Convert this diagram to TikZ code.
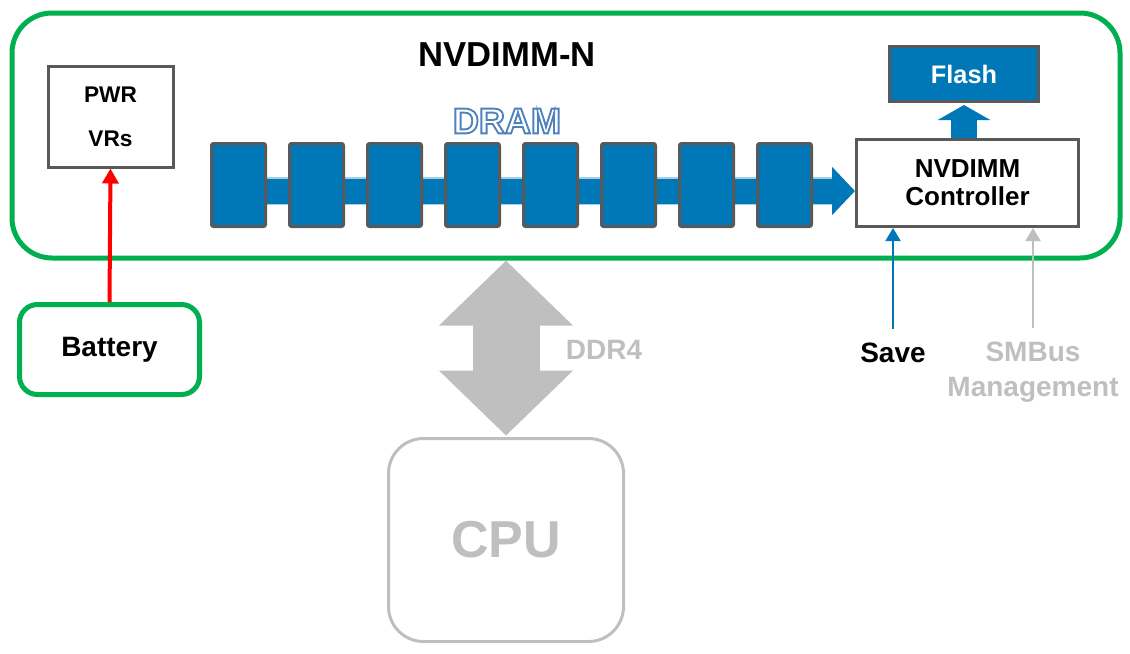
\documentclass[tikz,border=0pt]{standalone}
\usepackage{fontspec}
\setmainfont{Liberation Sans}
\usetikzlibrary{arrows.meta,positioning}

\definecolor{nvgreen}{RGB}{0,176,80}
\definecolor{chipblue}{RGB}{0,119,182}
\definecolor{edgegray}{RGB}{89,89,89}
\definecolor{paleline}{RGB}{191,191,191}
\definecolor{dramblue}{RGB}{79,129,189}

% outlined text: white fill, blue stroke
\newcommand{\outlined}[1]{{\color{white}%
    \special{pdf:literal direct 2 Tr 1.4 w 0.31 0.506 0.741 RG}#1%
    \special{pdf:literal direct 0 Tr}}}

\tikzset{
    lbl/.style={font=\fontsize{21pt}{25pt}\selectfont\bfseries, inner sep=0pt},
    greenbox/.style={draw=nvgreen, line width=3.75pt, fill=white, inner sep=0pt},
    graybox/.style={draw=edgegray, line width=2.25pt, inner sep=0pt},
    chip/.style={graybox, fill=chipblue, rounded corners=1.5pt,
        minimum width=40.5pt, minimum height=62.25pt},
    bus/.style={chipblue, line width=18.75pt,
        -{Triangle[length=17.25pt, width=35.25pt]}},
    upbus/.style={chipblue, line width=19.5pt,
        -{Triangle[length=11.25pt, width=39pt]}},
    ddr/.style={paleline, line width=50.25pt,
        {Triangle[length=48.75pt, width=97.5pt]}-{Triangle[length=48.75pt, width=97.5pt]}},
    thinarrow/.style={line width=1.5pt, -{Triangle[length=9.75pt, width=11.25pt]}},
}

\begin{document}
\begin{tikzpicture}[x=0.75pt, y=-0.75pt]
    \useasboundingbox (0,0) rectangle (1130,653);

    % -------------------------------------------------------
    % 1. The module and the battery
    % -------------------------------------------------------
    \node[greenbox, rounded corners=30pt, minimum width=831pt, minimum height=183.75pt]
        (nvdimm) at (566,135.5) {};
    \node[lbl, font=\fontsize{26pt}{30pt}\selectfont\bfseries] (title) at (507,55) {NVDIMM-N};

    \node[greenbox, rounded corners=13.5pt, minimum width=135pt, minimum height=67.5pt,
        lbl] (battery) at (109.5,349.5) {Battery};

    % Power regulators
    \node[graybox, minimum width=93.75pt, minimum height=75.75pt, align=center,
        font=\fontsize{17pt}{33pt}\selectfont\bfseries] (pwr) at (110.5,116.5) {PWR\\VRs};
    \draw[red, line width=3pt, -{Triangle[length=11.25pt, width=12pt]}]
        (battery.north) -- (pwr.south);

    % -------------------------------------------------------
    % 2. Controller, flash and the DRAM chips
    % -------------------------------------------------------
    \node[graybox, fill=white, minimum width=166.5pt, minimum height=65.25pt, align=center,
        font=\fontsize{19.5pt}{21pt}\selectfont\bfseries] (ctrl) at (967.5,183) {NVDIMM\\Controller};
    \node[graybox, fill=chipblue, text=white, minimum width=111.75pt, minimum height=41.25pt,
        font=\fontsize{19pt}{22pt}\selectfont\bfseries] (flash) at (964,74) {Flash};
    \draw[upbus] (flash.south |- ctrl.north) -- ([yshift=-1.5pt]flash.south);

    % Data path runs behind the chips
    \coordinate (busstart) at (238.5,191);
    \draw[chipblue!35, line width=21pt] (busstart) -- ([xshift=-17pt]busstart -| ctrl.west);
    \draw[bus] (busstart) -- (busstart -| ctrl.west);

    \foreach \i in {1,...,8} {
        \node[chip] (chip\i) at ({238.5+78*(\i-1)},185) {};
    }
    \node[inner sep=0pt, font=\fontsize{27pt}{30pt}\selectfont\bfseries] (dram) at (507,121)
        {\outlined{DRAM}};

    % -------------------------------------------------------
    % 3. Control signals
    % -------------------------------------------------------
    \node[lbl] (save) at (893,353) {Save};
    \node[lbl, text=paleline, align=center, font=\fontsize{21pt}{26pt}\selectfont\bfseries]
        (smbus) at (1033,372) {SMBus\\Management};
    \draw[thinarrow, chipblue] ([yshift=10pt]save.north) -- (save.north |- ctrl.south);
    \draw[thinarrow, paleline] ([yshift=10pt]smbus.north) -- (smbus.north |- ctrl.south);

    % -------------------------------------------------------
    % 4. Host side
    % -------------------------------------------------------
    \node[draw=paleline, line width=2.25pt, rounded corners=26.25pt,
        minimum width=176.25pt, minimum height=152.25pt, text=paleline,
        font=\fontsize{39pt}{44pt}\selectfont\bfseries] (cpu) at (506,540) {CPU};
    \draw[ddr] (cpu.north |- nvdimm.south) -- ([yshift=1pt]cpu.north);
    \node[lbl, text=paleline] (ddrlbl) at (604,350) {DDR4};
\end{tikzpicture}
\end{document}
